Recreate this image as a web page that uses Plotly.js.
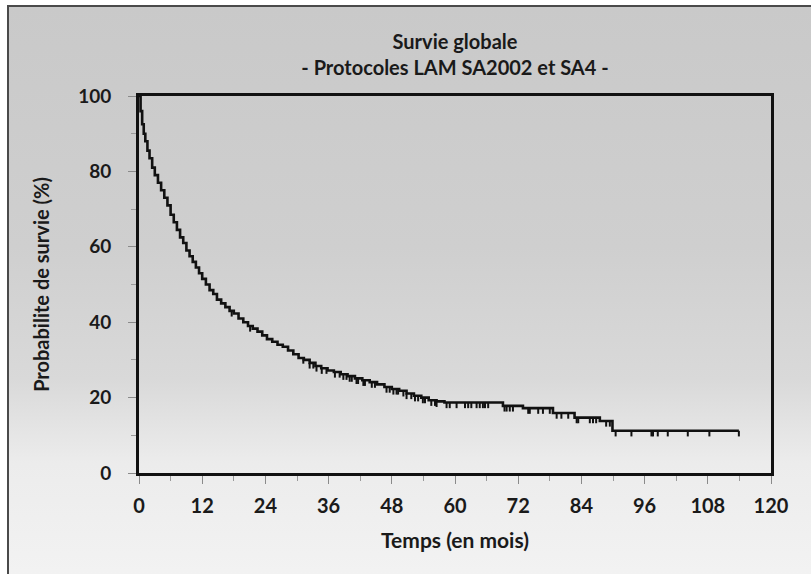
<!DOCTYPE html>
<html>
<head>
<meta charset="utf-8">
<script src="https://cdn.plot.ly/plotly-3.0.1.min.js"></script>
<style>
  html, body { margin: 0; padding: 0; background: #ffffff; width: 811px; height: 574px; overflow: hidden; }
  #bg { position: absolute; left: 7px; top: 5px; width: 830px; height: 600px;
        border-left: 2px solid #4a4a4a; border-top: 2px solid #4a4a4a;
        background: linear-gradient(to bottom, #c9c9c9 0%, #cfcfcf 40%, #d9d9d9 62%, #ececec 76%, #f4f4f4 100%); }
  #chart { position: absolute; left: 0; top: 0; width: 811px; height: 574px; }
</style>
</head>
<body>
<div id="bg"></div>
<div id="chart"></div>
<script>
// Kaplan-Meier event times (months) and survival (%)
var eventTimes = [0, 0.3, 0.6, 0.9, 1.2, 1.6, 2.0, 2.5, 3.0, 3.6, 4.2, 4.8, 5.4, 6.0, 6.6, 7.2, 7.8, 8.4, 9.0, 9.6,
  10.2, 10.8, 11.4, 12.0, 12.7, 13.4, 14.1, 14.8, 15.6, 16.4, 17.2, 18.0, 18.9, 19.8, 20.7, 21.6, 22.5, 23.4,
  24.3, 25.3, 26.3, 27.3, 28.3, 29.3, 30.3, 31.3, 32.4, 33.5, 34.6, 35.8, 37.0, 38.3, 39.6, 41.0, 42.4, 43.8,
  45.2, 46.6, 48.0, 49.4, 50.8, 52.2, 53.6, 55.0, 56.5, 58.0, 69.1, 72.9, 78.6, 82.7, 87.5, 89.9];
var survival = [100, 96, 92.5, 90, 88, 85.5, 83.5, 81, 79, 77, 75, 73, 71, 68.5, 66.5, 64.5, 62.5, 61, 59, 57.5,
  56, 54.5, 53, 51.5, 50, 48.5, 47.5, 46, 45, 44, 43, 42.3, 41, 40, 39, 38.3, 37.5, 36.5,
  35.5, 34.8, 34, 33.5, 32.5, 31.5, 30.5, 30, 29.2, 28.4, 27.8, 27.2, 26.8, 26.2, 25.7, 25.1, 24.6, 24.1,
  23.5, 22.8, 22.3, 21.8, 21.1, 20.5, 20.0, 19.3, 19.0, 18.7, 17.8, 17.2, 15.9, 14.7, 13.8, 11.2];
var lastFollowUp = 113.9;

// Censored observations (months)
var censorTimes = [17.6, 21.1, 31.2, 32.4, 33.1, 33.7, 34.7, 35.6, 37.2, 38.1, 38.8, 39.4, 40.0, 40.4, 41.3,
  41.6, 42.6, 42.9, 44.2, 44.8, 47.0, 47.6, 48.3, 48.9, 49.2, 50.2, 50.8, 51.7, 52.4, 53.0, 53.9, 54.3, 55.5,
  56.2, 56.5, 58.4, 59.0, 60.3, 61.9, 62.5, 63.1, 64.1, 64.7, 65.3, 65.7, 66.3, 69.4, 69.8, 70.4, 71.0, 73.9,
  74.2, 75.8, 76.7, 78.0, 79.3, 80.2, 81.5, 83.1, 83.4, 85.6, 86.2, 86.8, 88.7, 89.4, 90.5, 93.5, 97.3, 97.6,
  98.5, 100.4, 104.2, 108.3, 113.9];

var xTickVals = [0, 12, 24, 36, 48, 60, 72, 84, 96, 108, 120];
var yTickVals = [0, 20, 40, 60, 80, 100];

function survAt(t) {
  var s = survival[0];
  for (var i = 0; i < eventTimes.length; i++) { if (eventTimes[i] <= t) s = survival[i]; }
  return s;
}

var curveX = eventTimes.concat([lastFollowUp]);
var curveY = survival.concat([survival[survival.length - 1]]);
var censorY = censorTimes.map(survAt);

var font = 'Lato, "Open Sans", "DejaVu Sans", sans-serif';

var traces = [
  { x: curveX, y: curveY, type: 'scatter', mode: 'lines',
    line: { shape: 'hv', color: '#111111', width: 2.6 }, hoverinfo: 'skip', showlegend: false },
  { x: censorTimes, y: censorY, type: 'scatter', mode: 'markers',
    marker: { size: 1, color: 'rgba(0,0,0,0)' },
    error_y: { type: 'data', symmetric: false, array: censorTimes.map(function(){return 0;}),
               arrayminus: censorTimes.map(function(){return 1.5;}), width: 0, thickness: 2, color: '#111111' },
    hoverinfo: 'skip', showlegend: false }
];

var layout = {
  width: 811, height: 574,
  paper_bgcolor: 'rgba(0,0,0,0)', plot_bgcolor: 'rgba(0,0,0,0)',
  margin: { l: 139, r: 40, t: 96, b: 101, pad: 0 },
  font: { family: font, color: '#1a1a1a' },
  title: {
    text: 'Survie globale<br>- Protocoles LAM SA2002 et SA4 -',
    font: { family: font, size: 20, weight: 700, color: '#1a1a1a' },
    xref: 'paper', x: 0.5, xanchor: 'center',
    yref: 'container', y: 0.915, yanchor: 'top'
  },
  xaxis: {
    range: [0, 120], tickvals: xTickVals, ticktext: xTickVals.map(String),
    showgrid: false, zeroline: false,
    showline: true, mirror: true, linecolor: '#111111', linewidth: 3,
    ticks: 'outside', ticklen: 8, tickwidth: 1, tickcolor: '#8a8a8a',
    minor: { dtick: 6, tick0: 0, ticks: 'outside', ticklen: 5, tickcolor: '#9a9a9a', showgrid: false },
    tickfont: { family: font, size: 20, weight: 700, color: '#1a1a1a' },
    ticklabelstandoff: 5,
    title: { text: 'Temps (en mois)', font: { family: font, size: 21, weight: 700, color: '#1a1a1a' }, standoff: 18 }
  },
  yaxis: {
    range: [0, 100], tickvals: yTickVals, ticktext: yTickVals.map(String),
    showgrid: false, zeroline: false,
    showline: true, mirror: true, linecolor: '#111111', linewidth: 3,
    ticks: 'outside', ticklen: 8, tickwidth: 1, tickcolor: '#8a8a8a',
    minor: { dtick: 10, tick0: 0, ticks: 'outside', ticklen: 5, tickcolor: '#9a9a9a', showgrid: false },
    tickfont: { family: font, size: 19, weight: 700, color: '#1a1a1a' },
    ticklabelstandoff: 13,
    title: { text: 'Probabilite de survie (%)', font: { family: font, size: 20, weight: 700, color: '#1a1a1a' }, standoff: 24 }
  }
};

Plotly.newPlot('chart', traces, layout, { displayModeBar: false, staticPlot: true });
</script>
</body>
</html>
